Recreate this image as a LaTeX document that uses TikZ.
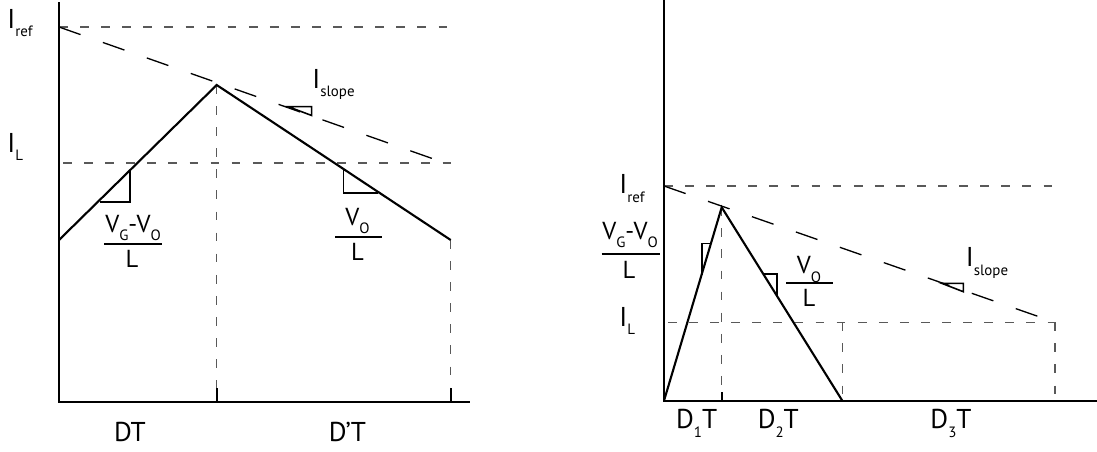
\documentclass[tikz,border=0pt]{standalone}
\usepackage{fontspec}
\setmainfont{PT Sans}
\usetikzlibrary{positioning}
\newcommand\withsub[2]{#1\raisebox{-5pt}{\fontsize{8.5}{9}\selectfont #2}}

\begin{document}
\begin{tikzpicture}[
  x=0.02cm, y=-0.02cm,
  axis/.style={line width=1.25pt},
  wave/.style={line width=1.2pt, line join=miter},
  guide/.style={dash pattern=on 5pt off 7pt, line width=0.8pt, color=black!65},
  ramp/.style={dash pattern=on 13pt off 13.5pt, line width=0.75pt},
  tick/.style={line width=1.2pt},
  marker/.style={line width=0.9pt},
  bar/.style={line width=1.1pt},
  lbl/.style={font=\fontsize{15.5}{18}\selectfont, inner sep=0pt},
  fraclbl/.style={font=\fontsize{14}{16}\selectfont, inner sep=0pt},
]
\useasboundingbox (0,0) rectangle (1097,451);

% left: continuous conduction
\coordinate (o1) at (59,402);
\coordinate (top1) at (59,2);
\coordinate (end1) at (470,402);
\coordinate (ref1a) at (59,27);
\coordinate (ref1b) at (452,27);
\coordinate (il1a) at (63,163);
\coordinate (il1b) at (455,163);
\coordinate (start1) at (59,240);
\coordinate (peak1) at (216.7,85);
\coordinate (stop1) at (450.7,240);
\coordinate (foot1a) at (216.7,402);
\coordinate (foot1b) at (450.7,402);
\coordinate (ramp1) at (445,163);

\draw[guide] (ref1a) -- (ref1b);
\draw[guide] (il1a) -- (il1b);
\draw[guide] (peak1) -- (foot1a);
\draw[guide] (stop1) -- (foot1b);
\draw[ramp] (ref1a) -- (ramp1);
\draw[axis] (top1) -- (o1) -- (end1);
\draw[tick] (foot1a) -- ++(0,-14);
\draw[tick] (foot1b) -- ++(0,-14);
\draw[wave] (start1) -- (peak1) -- (stop1);

\draw[marker] (100,201.7) -- (130,201.7) -- (130,170.7);
\draw[marker] (343.3,170) -- (343.3,192.7) -- (378.3,192.7);
\draw[marker] (311.7,115.5) -- (311.7,106.7) -- (288.3,106.7) -- cycle;

\node[lbl, anchor=base west] (iref1) at (7,28) {\withsub{I}{ref}};
\node[lbl, anchor=base west] (il1) at (7,152) {\withsub{I}{L}};
\node[lbl, anchor=base west] (islope1) at (312,88) {\withsub{I}{slope}};
\node[lbl, anchor=base] (dt) at (130,441) {DT};
\node[lbl, anchor=base] (dpt) at (347.5,441) {D’T};

\node[fraclbl, anchor=base] (num1) at (133,232) {\withsub{V}{G}-\withsub{V}{O}};
\draw[bar] (104,244) -- (162,244);
\node[fraclbl, anchor=base] (den1) at (132,267) {L};

\node[fraclbl, anchor=base] (num2) at (357.5,225) {\withsub{V}{O}};
\draw[bar] (335,236.7) -- (381.7,236.7);
\node[fraclbl, anchor=base] (den2) at (357.5,260) {L};

% right: discontinuous conduction
\coordinate (o2) at (664,400.7);
\coordinate (top2) at (664,0);
\coordinate (end2) at (1097,400.7);
\coordinate (ref2a) at (664,186);
\coordinate (ref2b) at (1056.7,186);
\coordinate (il2a) at (668,322.3);
\coordinate (il2b) at (1058,322.3);
\coordinate (peak2) at (721.7,207.3);
\coordinate (stop2) at (842.3,400.7);
\coordinate (foot2a) at (721.7,400.7);
\coordinate (il2c) at (842.3,322.3);
\coordinate (il2d) at (1055,322.3);
\coordinate (foot2d) at (1055,400.7);

\draw[guide] (ref2a) -- (ref2b);
\draw[guide] (il2a) -- (il2b);
\draw[guide] (peak2) -- (foot2a);
\draw[guide] (il2c) -- (stop2);
\draw[guide] (il2d) -- (foot2d);
\draw[ramp] (ref2a) -- (il2d);
\draw[axis] (top2) -- (o2) -- (end2);
\draw[tick] (foot2a) -- ++(0,-9);
\draw[wave] (o2) -- (peak2) -- (stop2);

\draw[marker] (710.5,243.3) -- (701.7,243.3) -- (701.7,275);
\draw[marker] (763.3,274) -- (776.7,274) -- (776.7,295.5);
\draw[marker] (963.3,291.7) -- (963.3,283.3) -- (941.7,283.3) -- cycle;

\node[lbl, anchor=base west] (iref2) at (619,193.3) {\withsub{I}{ref}};
\node[lbl, anchor=base west] (il2) at (619,326) {\withsub{I}{L}};
\node[lbl, anchor=base west] (islope2) at (965.5,266.7) {\withsub{I}{slope}};
\node[lbl, anchor=base] (d1t) at (696.7,428.3) {\withsub{D}{1}T};
\node[lbl, anchor=base] (d2t) at (778.3,428.3) {\withsub{D}{2}T};
\node[lbl, anchor=base] (d3t) at (951,428.3) {\withsub{D}{3}T};

\node[fraclbl, anchor=base] (num3) at (630,239) {\withsub{V}{G}-\withsub{V}{O}};
\draw[bar] (601.7,254) -- (660,254);
\node[fraclbl, anchor=base] (den3) at (629,278.3) {L};

\node[fraclbl, anchor=base] (num4) at (809,273.3) {\withsub{V}{O}};
\draw[bar] (786,283.3) -- (833.3,283.3);
\node[fraclbl, anchor=base] (den4) at (809,306.7) {L};

\end{tikzpicture}
\end{document}
